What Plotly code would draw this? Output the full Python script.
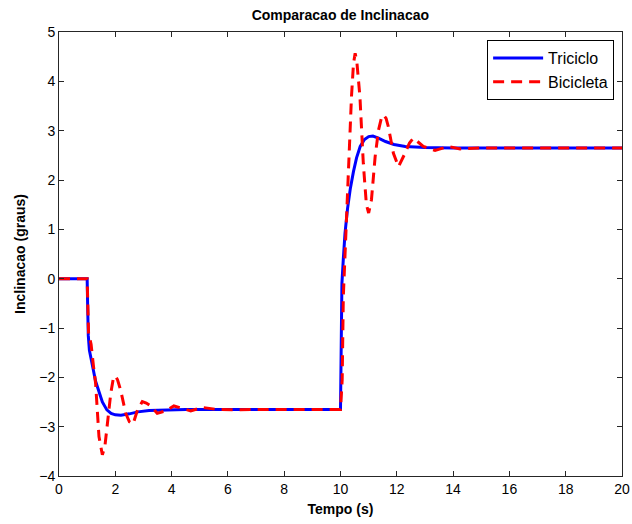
import plotly.graph_objects as go

# Triciclo (blue)
t_tri = [0, 1.0, 1.02, 1.04, 1.08, 1.14, 1.22, 1.3, 1.4, 1.54, 1.7, 1.85, 2.0, 2.2, 2.5, 2.8, 3.2, 3.8, 4.5, 10.0,
         10.02, 10.05, 10.1, 10.16, 10.25, 10.35, 10.46, 10.57, 10.7, 10.85, 11.0, 11.15, 11.35, 11.6, 11.9, 12.3, 13.0, 14.0, 20.0]
y_tri = [0, 0, -0.6, -1.15, -1.45, -1.65, -1.85, -2.08, -2.27, -2.5, -2.66, -2.73, -2.76, -2.77, -2.74, -2.7, -2.67, -2.655, -2.65, -2.65,
         -0.5, -0.1, 0.4, 0.92, 1.42, 1.83, 2.17, 2.45, 2.68, 2.82, 2.88, 2.89, 2.85, 2.78, 2.72, 2.68, 2.66, 2.65, 2.65]

# Bicicleta (red dashed)
t_bic = [0, 1.0, 1.05, 1.14, 1.22, 1.3, 1.42, 1.54, 1.63, 1.72, 1.84, 1.93, 2.0, 2.08, 2.19, 2.37, 2.5, 2.63, 2.79, 2.96,
         3.1, 3.26, 3.49, 3.79, 4.08, 4.38, 4.68, 5.09, 5.6, 6.2, 7.0, 10.0,
         10.06, 10.1, 10.19, 10.28, 10.39, 10.46, 10.52, 10.58, 10.69, 10.81, 10.92, 11.0, 11.1, 11.23, 11.35, 11.45, 11.53,
         11.62, 11.7, 11.88, 12.06, 12.29, 12.45, 12.59, 12.94, 13.36, 13.83, 14.25, 15.0, 20.0]
y_bic = [0, 0, -1.1, -1.33, -1.75, -2.12, -3.2, -3.57, -3.4, -2.93, -2.32, -2.02, -1.97, -2.05, -2.26, -2.73, -2.9, -2.95, -2.66, -2.49,
         -2.52, -2.58, -2.73, -2.68, -2.58, -2.63, -2.68, -2.61, -2.65, -2.66, -2.65, -2.65,
         -2.05, -0.36, 0.99, 2.0, 3.69, 4.35, 4.57, 4.4, 3.69, 2.34, 1.5, 1.33, 1.6, 2.47, 3.01, 3.25, 3.32,
         3.25, 3.08, 2.54, 2.27, 2.54, 2.75, 2.85, 2.68, 2.6, 2.68, 2.63, 2.65, 2.65]

x_ticks = [0, 2, 4, 6, 8, 10, 12, 14, 16, 18, 20]
y_ticks = [-4, -3, -2, -1, 0, 1, 2, 3, 4, 5]

FONT = "Liberation Sans, Arial, Helvetica, sans-serif"

fig = go.Figure()
fig.add_trace(go.Scatter(x=t_tri, y=y_tri, mode="lines", name="Triciclo",
                         line=dict(color="#0000ff", width=3)))
fig.add_trace(go.Scatter(x=t_bic, y=y_bic, mode="lines", name="Bicicleta",
                         line=dict(color="#ff0000", width=3, dash="11px,7px")))

axis_common = dict(showgrid=False, zeroline=False, showline=True, linecolor="#262626", linewidth=1,
                   mirror="ticks", ticks="inside", ticklen=5, tickcolor="#262626", automargin=False,
                   tickfont=dict(family=FONT, size=14, color="black"))

fig.update_layout(
    width=632, height=524,
    margin=dict(l=59, r=10, t=32, b=48),
    paper_bgcolor="white", plot_bgcolor="white",
    title=dict(text="<b>Comparacao de Inclinacao</b>", x=0.5385, xanchor="center", y=0.972, yanchor="middle",
               font=dict(family=FONT, size=14, color="black")),
    xaxis=dict(range=[0, 20], tickvals=x_ticks, **axis_common,
               title=dict(text="<b>Tempo (s)</b>", font=dict(family=FONT, size=14, color="black"), standoff=8)),
    yaxis=dict(range=[-4, 5], tickvals=y_ticks, **axis_common,
               title=dict(text="<b>Inclinacao (graus)</b>", font=dict(family=FONT, size=14, color="black"), standoff=10)),
    legend=dict(x=0.986, y=0.982, xanchor="right", yanchor="top", bgcolor="white",
                bordercolor="black", borderwidth=1, font=dict(family=FONT, size=16, color="black"),
                itemwidth=50, tracegroupgap=0),
    showlegend=True,
)

fig.write_html("out.html")
